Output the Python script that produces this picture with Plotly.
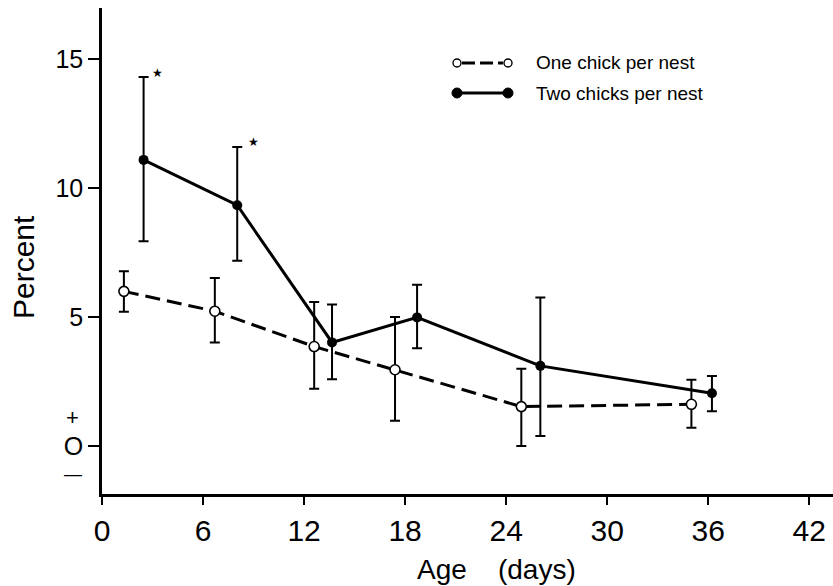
import plotly.graph_objects as go

# ---- data ----
one_age = [1.3, 6.7, 12.6, 17.4, 24.9, 35.0]
one_pct = [6.0, 5.23, 3.86, 2.96, 1.53, 1.62]
one_up = [6.78, 6.52, 5.59, 5.01, 3.0, 2.57]
one_lo = [5.21, 4.02, 2.22, 0.98, 0.0, 0.71]

two_age = [2.47, 8.03, 13.66, 18.71, 26.03, 36.22]
two_pct = [11.1, 9.34, 4.02, 4.99, 3.11, 2.05]
two_up = [14.32, 11.6, 5.49, 6.26, 5.76, 2.72]
two_lo = [7.94, 7.19, 2.59, 3.79, 0.39, 1.35]

star_age = [3.27, 8.98]
star_pct = [14.45, 11.75]

x_ticks = [0, 6, 12, 18, 24, 30, 36, 42]
y_ticks = [0, 5, 10, 15]
y_ticktext = ["O", "5", "10", "15"]

W, H = 833, 586
L, R, T, B = 102, 0, 8, 92
PW, PH = W - L - R, H - T - B
X_PER_PX = 1 / 16.84
Y_PER_PX = 1 / 25.78


def px(x):
    return (x - L) / PW


def py(y):
    return (H - B - y) / PH


fig = go.Figure()

fig.add_trace(go.Scatter(
    x=one_age, y=one_pct, mode="lines+markers",
    line=dict(color="black", width=3, dash="15px,7px"),
    marker=dict(symbol="circle", size=10, color="white", line=dict(color="black", width=1.6)),
    error_y=dict(type="data", symmetric=False,
                 array=[u - p for u, p in zip(one_up, one_pct)],
                 arrayminus=[p - l for p, l in zip(one_pct, one_lo)],
                 color="black", thickness=2, width=5),
    showlegend=False,
))

fig.add_trace(go.Scatter(
    x=two_age, y=two_pct, mode="lines+markers",
    line=dict(color="black", width=3),
    marker=dict(symbol="circle", size=10, color="black"),
    error_y=dict(type="data", symmetric=False,
                 array=[u - p for u, p in zip(two_up, two_pct)],
                 arrayminus=[p - l for p, l in zip(two_pct, two_lo)],
                 color="black", thickness=2, width=5),
    showlegend=False,
))

fig.add_trace(go.Scatter(
    x=star_age, y=star_pct, mode="text", text=["★"] * len(star_age),
    textfont=dict(size=12, color="black"), showlegend=False,
))

font = "Liberation Sans"

fig.update_layout(
    width=W, height=H,
    margin=dict(l=L, r=R, t=T, b=B),
    paper_bgcolor="white", plot_bgcolor="white",
    font=dict(family=font, color="black"),
    xaxis=dict(range=[0, PW * X_PER_PX], tickvals=x_ticks, ticks="outside", ticklen=8,
               tickwidth=2, tickcolor="black", showline=True, linewidth=2.5,
               linecolor="black", showgrid=False, zeroline=False,
               tickfont=dict(size=30, family=font)),
    yaxis=dict(range=[-1.86, PH * Y_PER_PX - 1.86], tickvals=y_ticks, ticktext=y_ticktext,
               ticks="outside", ticklen=11, tickwidth=2, tickcolor="black",
               showline=True, linewidth=2.5, linecolor="black", showgrid=False,
               zeroline=False, tickfont=dict(size=25, family=font)),
)

ann = []
# "+" and "-" around the zero label
ann.append(dict(x=px(72.5), y=py(417), xref="paper", yref="paper", text="+",
                showarrow=False, font=dict(size=22), xanchor="center", yanchor="middle"))
ann.append(dict(x=px(72.5), y=py(474), xref="paper", yref="paper", text="—",
                showarrow=False, font=dict(size=18), xanchor="center", yanchor="middle"))
# axis titles
ann.append(dict(x=px(23), y=py(267), xref="paper", yref="paper", text="Percent",
                showarrow=False, font=dict(size=30), textangle=-90,
                xanchor="center", yanchor="middle"))
ann.append(dict(x=px(496), y=py(569), xref="paper", yref="paper",
                text="Age\u00a0\u00a0\u00a0\u00a0(days)",
                showarrow=False, font=dict(size=28), xanchor="center", yanchor="middle"))
# legend text
ann.append(dict(x=px(534), y=py(63), xref="paper", yref="paper", text="One chick per nest",
                showarrow=False, font=dict(size=19), xanchor="left", yanchor="middle"))
ann.append(dict(x=px(534), y=py(93), xref="paper", yref="paper", text="Two chicks per nest",
                showarrow=False, font=dict(size=19), xanchor="left", yanchor="middle"))
fig.update_layout(annotations=ann)

shapes = []
# legend row 1: dashed line with open circles
shapes.append(dict(type="line", xref="paper", yref="paper", x0=px(462), x1=px(503),
                   y0=py(63), y1=py(63), line=dict(color="black", width=3, dash="13px,5px")))
r = 4
for cx in (457, 508):
    shapes.append(dict(type="circle", xref="paper", yref="paper",
                       x0=px(cx - r), x1=px(cx + r), y0=py(63 + r), y1=py(63 - r),
                       fillcolor="white", line=dict(color="black", width=1.4)))
# legend row 2: solid line with filled circles
shapes.append(dict(type="line", xref="paper", yref="paper", x0=px(460), x1=px(505),
                   y0=py(93), y1=py(93), line=dict(color="black", width=3)))
r = 5
for cx in (457, 508):
    shapes.append(dict(type="circle", xref="paper", yref="paper",
                       x0=px(cx - r), x1=px(cx + r), y0=py(93 + r), y1=py(93 - r),
                       fillcolor="black", line=dict(color="black", width=1)))
fig.update_layout(shapes=shapes)

fig.write_html("out.html")
